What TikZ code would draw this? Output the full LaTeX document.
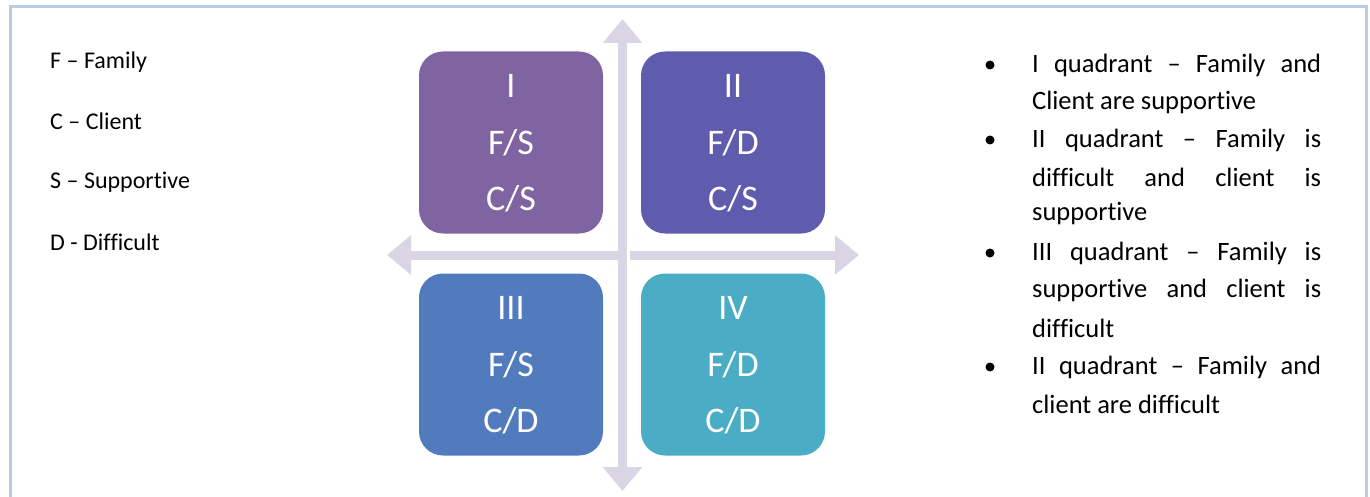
\documentclass[tikz,border=0pt]{standalone}
\usepackage{fontspec}
\setmainfont{Carlito}[Ligatures={NoCommon}]
\usetikzlibrary{arrows.meta}
\definecolor{frameblue}{HTML}{B9CDE5}
\definecolor{qone}{HTML}{8064A2}
\definecolor{qtwo}{HTML}{5F5BAD}
\definecolor{qthree}{HTML}{527BBD}
\definecolor{qfour}{HTML}{4BACC6}
\definecolor{axiscol}{HTML}{D9D5E5}
\tikzset{
  quadbox/.style={rounded corners=24pt, minimum width=184pt, minimum height=182pt, inner sep=0pt, draw=none},
  quadtext/.style={text=white, font=\fontsize{36pt}{42pt}\selectfont, inner sep=0pt, anchor=center},
  legend/.style={font=\fontsize{24pt}{28pt}\selectfont, anchor=west, inner sep=0pt},
  bul/.style={font=\fontsize{26.5pt}{30pt}\selectfont, anchor=west, inner sep=0pt},
  axis/.style={line width=9pt, draw=axiscol, -{Triangle[width=38pt,length=24pt]}},
}
\newcommand{\jl}[1]{\makebox[289pt][s]{#1}}
\begin{document}
\begin{tikzpicture}[x=1pt,y=1pt]
\useasboundingbox (0,0) rectangle (1370,-497);
% frame
\draw[frameblue, line width=3pt] (10,-520) -- (10,-6.5) -- (1366.5,-6.5) -- (1366.5,-520);
% legend
\node[legend] (lf) at (50,-62) {F – Family};
\node[legend] (lc) at (50,-121) {C – Client};
\node[legend] (ls) at (50,-182) {S – Supportive};
\node[legend] (ld) at (50,-242) {D - Difficult};
% quadrant boxes
\node[quadbox, fill=qone]   (q1) at (511,-142.5) {};
\node[quadbox, fill=qtwo]   (q2) at (733,-142.5) {};
\node[quadbox, fill=qthree] (q3) at (511,-364.5) {};
\node[quadbox, fill=qfour]  (q4) at (733,-364.5) {};
% axes
\coordinate (hl) at (387,-255);
\coordinate (hr) at (859,-255);
\coordinate (vt) at (622.5,-19);
\coordinate (vb) at (622.5,-491);
\coordinate (c) at (622.5,-255);
\draw[axis] (c) -- (hl);
\draw[axis] (c) -- (hr);
\draw[white, line width=3pt] (c) ++(6,4.5) -- ++(0,-9);
\draw[axis] (c) -- (vt);
\draw[axis] (c) -- (vb);
% box texts
\node[quadtext] (t1a) at (511,-86) {I};
\node[quadtext] (t1b) at (511,-143) {F/S};
\node[quadtext] (t1c) at (511,-199) {C/S};
\node[quadtext] (t2a) at (733,-86) {II};
\node[quadtext] (t2b) at (733,-143) {F/D};
\node[quadtext] (t2c) at (733,-199) {C/S};
\node[quadtext] (t3a) at (511,-308) {III};
\node[quadtext] (t3b) at (511,-365) {F/S};
\node[quadtext] (t3c) at (511,-421) {C/D};
\node[quadtext] (t4a) at (733,-308) {IV};
\node[quadtext] (t4b) at (733,-365) {F/D};
\node[quadtext] (t4c) at (733,-421) {C/D};
% bullets
\foreach \y/\n in {65/b1,140/b2,253/b3,367/b4}{
  \fill (990,-\y) circle (4.5pt) coordinate (\n);
}
\node[bul] (r1) at (1032,-65) {\jl{I quadrant – Family and}};
\node[bul] (r2) at (1032,-102) {Client are supportive};
\node[bul] (r3) at (1032,-140) {\jl{II quadrant – Family is}};
\node[bul] (r4) at (1032,-177) {\jl{difficult and client is}};
\node[bul] (r5) at (1032,-214) {supportive};
\node[bul] (r6) at (1032,-253) {\jl{III quadrant – Family is}};
\node[bul] (r7) at (1032,-290) {\jl{supportive and client is}};
\node[bul] (r8) at (1032,-328) {difficult};
\node[bul] (r9) at (1032,-367) {\jl{II quadrant – Family and}};
\node[bul] (r10) at (1032,-404) {client are difficult};
\end{tikzpicture}
\end{document}
